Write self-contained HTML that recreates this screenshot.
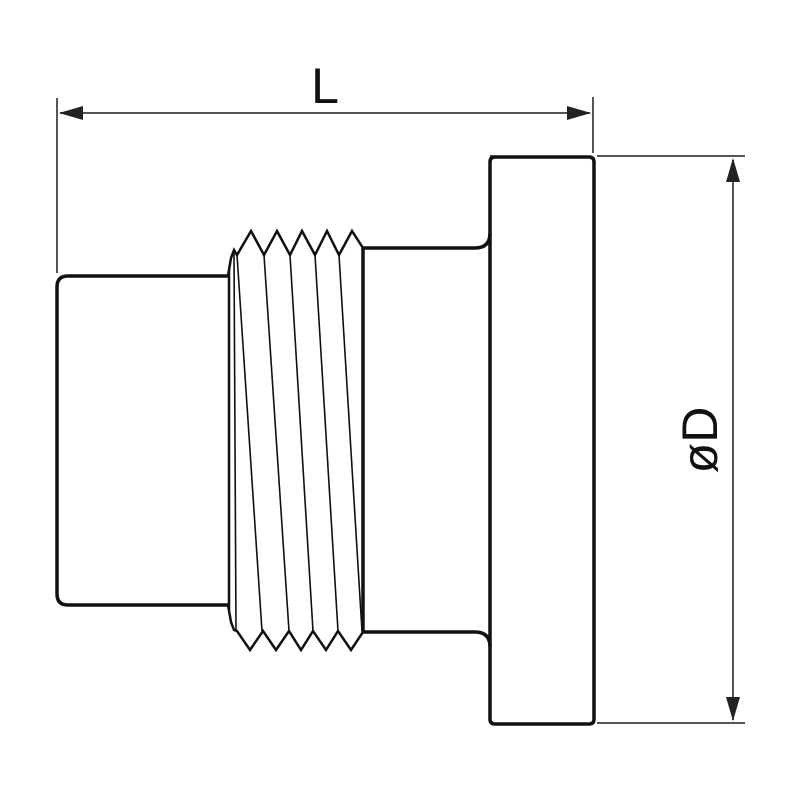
<!DOCTYPE html>
<html><head><meta charset="utf-8"><style>html,body{margin:0;padding:0;background:#fff}</style></head><body>
<svg width="800" height="800" viewBox="0 0 800 800" xmlns="http://www.w3.org/2000/svg">
<g stroke="#555" stroke-width="2" fill="none">
<line x1="57" y1="98" x2="57" y2="273"/>
<line x1="593" y1="97" x2="593" y2="153"/>
<line x1="60" y1="113" x2="590" y2="113"/>
<line x1="597" y1="156" x2="745" y2="156"/>
<line x1="597" y1="723" x2="745" y2="723"/>
<line x1="733" y1="160" x2="733" y2="720"/>
</g>
<g fill="#222">
<polygon points="59,113 83,106 83,120"/>
<polygon points="591,113 567,106 567,120"/>
<polygon points="733,158 726,182 740,182"/>
<polygon points="733,721 726,697 740,697"/>
</g>
<text x="325" y="103" font-family="Liberation Sans, sans-serif" font-size="50" text-anchor="middle" fill="#111">L</text>
<text transform="translate(717,440) rotate(-90)" font-family="Liberation Sans, sans-serif" font-size="50" text-anchor="middle" fill="#111">øD</text>
<g stroke="#111" stroke-width="3.5" fill="none" stroke-linejoin="round">
<path d="M228,276 L68,276 Q57,276 57,287 L57,594 Q57,605 68,605 L228,605"/>
<path d="M490,157 L589,157 Q594,157 594,162 L594,719 Q594,724 589,724 L495,724 Q490,724 490,719 L490,162 Q490,157 495,157"/>
<path d="M363,248 L475,248 Q490,248 490,233"/>
<path d="M363,632 L475,632 Q490,632 490,647"/>
<line x1="363" y1="248" x2="363" y2="632"/>
</g>
<g stroke="#111" stroke-width="2.5" fill="none" stroke-linejoin="miter">
<path d="M228,276 L231,258 L234,250 L237,255 L251,231 L264,255 L277,231 L290,255 L302,231 L315,255 L327,231 L339,255 L352,231 L363,248"/>
<path d="M228,605 L231,622 L234,630 L237,631 L250,650 L263,631 L276,650 L289,631 L301,650 L313,631 L326,650 L338,631 L351,650 L363,632"/>
<line x1="229" y1="270" x2="229" y2="610"/>
</g>
<g stroke="#111" stroke-width="1.6" fill="none">
<line x1="237" y1="255" x2="262" y2="631"/>
<line x1="264" y1="255" x2="289" y2="631"/>
<line x1="290" y1="255" x2="313" y2="631"/>
<line x1="315" y1="255" x2="338" y2="631"/>
<line x1="339" y1="255" x2="362" y2="631"/>
<line x1="234" y1="252" x2="236" y2="631"/>
</g>
</svg>
</body></html>
